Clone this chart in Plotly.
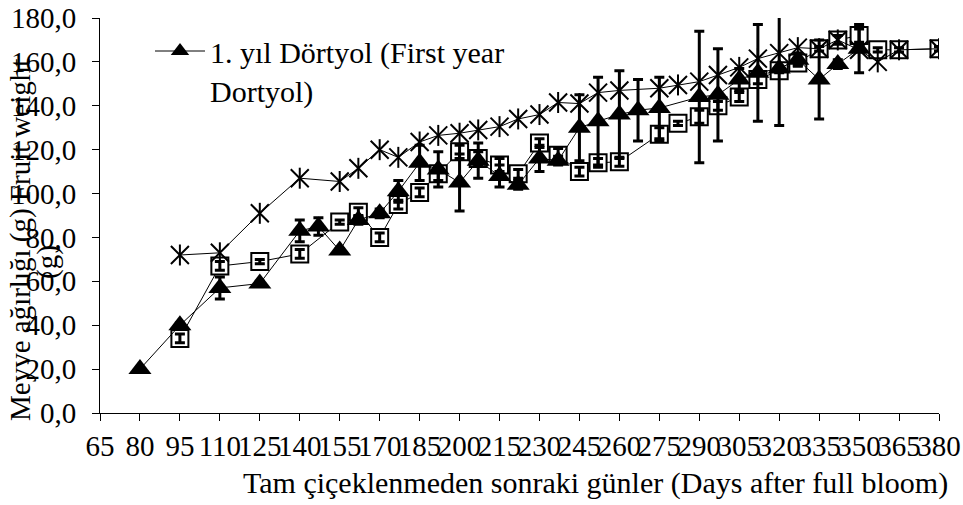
import plotly.graph_objects as go

# --- data -------------------------------------------------------------
days_tri = [80, 95, 110, 125, 140, 147, 155, 162, 170, 177, 185, 192, 200, 207, 215, 222,
            230, 237, 245, 252, 260, 267, 275, 290, 297, 305, 312, 320, 327, 335, 342, 350]
w_tri = [20, 40, 57, 59, 83, 85, 74, 88, 91, 101, 114, 111, 105, 115, 108, 104,
         116, 115, 130, 133, 136, 138, 139, 144, 145, 152, 155, 157, 161, 152, 159, 166]
e_tri = [0.5, 1, 5, 1, 5, 4, 1, 2, 2, 5, 8, 8, 13, 8, 5, 2,
         6, 2, 15, 20, 20, 14, 14, 30, 21, 5, 22, 26, 3, 18, 2, 11]

days_sq = [95, 110, 125, 140, 155, 162, 170, 177, 185, 192, 200, 207, 215, 222, 230, 237,
           245, 252, 260, 275, 282, 290, 297, 305, 312, 320, 327, 335, 342, 350, 357, 365, 380]
w_sq = [34, 67, 69, 72.5, 87, 91.5, 80, 95, 100.5, 109, 119, 116, 113, 109, 123, 117.5,
        110, 114, 114.5, 127, 132, 135, 140, 144, 152, 156, 159.5, 166, 170, 172, 165.5, 165.5, 166]
e_sq = [2, 2, 1, 2, 1, 2, 2, 2, 2, 3, 3, 3, 3, 2, 2, 3,
        2, 2, 2, 3, 1, 3, 2, 2, 2, 1, 1, 1, 2, 3, 1, 1, 1]

days_star = [95, 110, 125, 140, 155, 162, 170, 177, 185, 192, 200, 207, 215, 222, 230, 237,
             245, 252, 260, 275, 282, 290, 297, 305, 312, 320, 327, 335, 342, 350, 357, 365, 380]
w_star = [72, 73, 91, 107, 105.5, 111.5, 120, 116.5, 123.5, 126.5, 127.5, 129, 130.5, 134, 136, 141.5,
          141, 146, 147, 148, 149.5, 151, 154, 157.5, 161.5, 164, 166.5, 166, 170, 165.5, 160, 165.5, 166]

legend_name = "1. yıl Dörtyol (First year<br>Dortyol)"
y_title = "Meyve ağırlığı (g) Fruit weight"
y_title2 = "(g)"
x_title = "Tam çiçeklenmeden sonraki günler (Days after full bloom)"

FONT = "Liberation Serif"
FS = 30
FS_TICK = 29

fig = go.Figure()

# squares (white filled)
fig.add_trace(go.Scatter(
    x=days_sq, y=w_sq, mode="lines+markers", showlegend=False,
    line=dict(color="black", width=1),
    marker=dict(symbol="square", size=17, color="white", line=dict(color="black", width=2)),
))
fig.add_trace(go.Scatter(
    x=days_sq, y=w_sq, mode="markers", showlegend=False,
    marker=dict(size=1, color="rgba(0,0,0,0)"),
    error_y=dict(type="data", array=e_sq, color="black", thickness=3, width=5),
))

# triangles
fig.add_trace(go.Scatter(
    x=days_tri, y=w_tri, mode="lines+markers", name=legend_name, showlegend=True,
    line=dict(color="black", width=1),
    marker=dict(symbol="triangle-up", size=20, color="black"),
))
fig.add_trace(go.Scatter(
    x=days_tri, y=w_tri, mode="markers", showlegend=False,
    marker=dict(size=1, color="rgba(0,0,0,0)"),
    error_y=dict(type="data", array=e_tri, color="black", thickness=3, width=5),
))

# stars (X + vertical stroke)
fig.add_trace(go.Scatter(
    x=days_star, y=w_star, mode="lines+markers", showlegend=False,
    line=dict(color="black", width=1),
    marker=dict(symbol="x-thin-open", size=18, color="black", line=dict(color="black", width=2)),
))
fig.add_trace(go.Scatter(
    x=days_star, y=w_star, mode="markers", showlegend=False,
    marker=dict(symbol="line-ns-open", size=15, color="black", line=dict(color="black", width=2)),
))

fig.update_layout(
    width=963, height=505,
    margin=dict(l=100, r=24, t=18, b=92, autoexpand=False),
    paper_bgcolor="white", plot_bgcolor="white",
    font=dict(family=FONT, size=FS, color="black"),
    separators=", ",
    legend=dict(
        xref="paper", yref="paper",
        x=(150 - 100) / 839, y=(413 - 25) / 395, xanchor="left", yanchor="top",
        bgcolor="rgba(0,0,0,0)", font=dict(family=FONT, size=FS, color="black"),
        valign="top", itemwidth=50, tracegroupgap=0,
    ),
    xaxis=dict(
        range=[65, 380], tickmode="linear", tick0=65, dtick=15,
        showline=True, linecolor="black", linewidth=1,
        ticks="outside", ticklen=7, tickcolor="black", tickwidth=1,
        showgrid=False, zeroline=False, tickangle=0, automargin=False,
        tickfont=dict(family=FONT, size=FS_TICK, color="black"),
    ),
    yaxis=dict(
        range=[0, 180], tickmode="linear", tick0=0, dtick=20, tickformat=".1f",
        showline=True, linecolor="black", linewidth=1,
        ticks="outside", ticklen=7, tickcolor="black", tickwidth=1,
        showgrid=False, zeroline=False, ticklabelstandoff=10, automargin=False,
        tickfont=dict(family=FONT, size=FS_TICK, color="black"),
    ),
    annotations=[
        dict(text=y_title, textangle=-90, xref="paper", yref="paper",
             x=(20 - 100) / 839, y=(413 - 240) / 395, xanchor="center", yanchor="middle",
             showarrow=False, font=dict(family=FONT, size=FS_TICK, color="black")),
        dict(text=y_title2, textangle=-90, xref="paper", yref="paper",
             x=(47 - 100) / 839, y=(413 - 262) / 395, xanchor="center", yanchor="middle",
             showarrow=False, font=dict(family=FONT, size=FS_TICK, color="black")),
        dict(text=x_title, xref="paper", yref="paper",
             x=(595 - 100) / 839, y=(413 - 483) / 395, xanchor="center", yanchor="middle",
             showarrow=False, font=dict(family=FONT, size=FS, color="black")),
    ],
)

fig.write_html("out.html")
